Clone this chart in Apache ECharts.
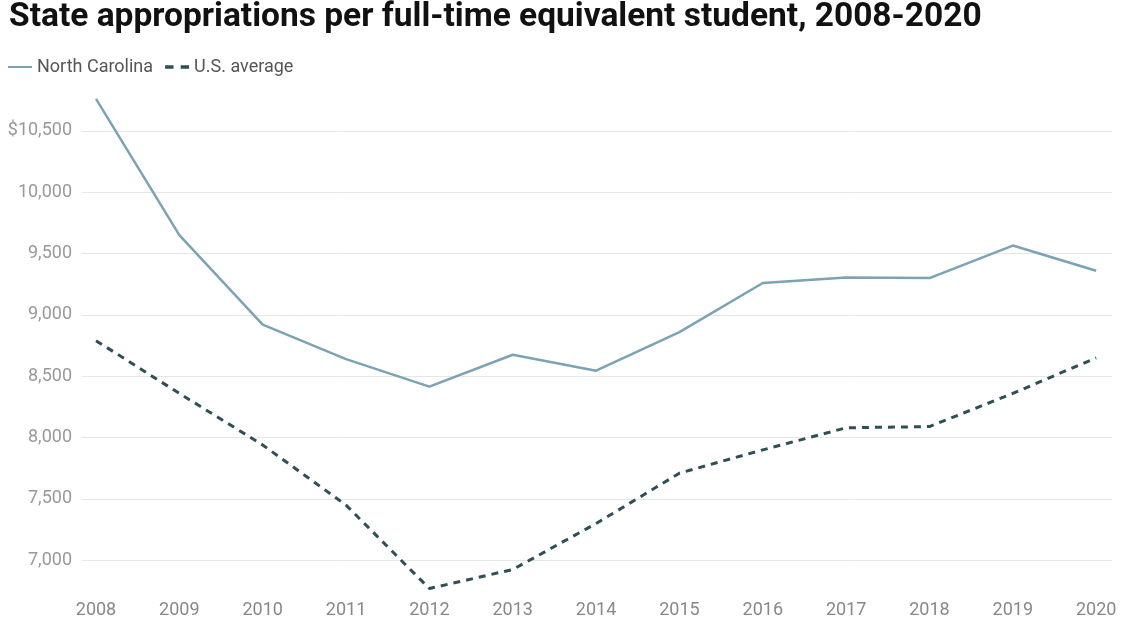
<!DOCTYPE html>
<html>
<head>
<meta charset="utf-8">
<script src="https://cdn.jsdelivr.net/npm/echarts@6/dist/echarts.min.js"></script>
<style>
  html, body { margin: 0; padding: 0; background: #fff; }
  #chart { width: 1140px; height: 640px; }
</style>
</head>
<body>
<div id="chart"></div>
<script>
// data
var years = [2008, 2009, 2010, 2011, 2012, 2013, 2014, 2015, 2016, 2017, 2018, 2019, 2020];
var northCarolina = [10760, 9650, 8920, 8640, 8415, 8675, 8545, 8860, 9260, 9305, 9300, 9565, 9360];
var usAverage = [8790, 8360, 7940, 7450, 6770, 6925, 7300, 7710, 7900, 8080, 8090, 8360, 8650];
var yTicks = [7000, 7500, 8000, 8500, 9000, 9500, 10000, 10500];

var chart = echarts.init(document.getElementById('chart'));

function pairs(values) {
  return years.map(function (y, i) { return [y, values[i]]; });
}

var option = {
  backgroundColor: '#fff',
  animation: false,
  title: {
    text: 'State appropriations per full-time equivalent student, 2008-2020',
    left: 4,
    top: -4,
    textStyle: {
      fontFamily: 'Roboto',
      fontWeight: 'bold',
      fontSize: 33.5,
      color: '#111'
    }
  },
  legend: {
    left: 3,
    top: 53,
    itemWidth: 24,
    itemHeight: 12,
    itemGap: 12,
    textStyle: { fontFamily: 'Roboto', fontSize: 18, color: '#555' },
    data: [
      { name: 'North Carolina', icon: 'path://M0,5L24,5L24,7L0,7Z' },
      { name: 'U.S. average', icon: 'path://M0,4.5L7,4.5L7,7.5L0,7.5ZM13,4.5L20,4.5L20,7.5L13,7.5Z' }
    ]
  },
  grid: {
    left: 82,
    right: 28,
    top: 94,
    bottom: 49,
    containLabel: false
  },
  xAxis: {
    type: 'value',
    min: 2007.832,
    max: 2020.19,
    axisLine: { show: false },
    axisTick: { show: false },
    splitLine: { show: false },
    axisLabel: {
      customValues: years,
      margin: 10,
      color: '#888',
      fontFamily: 'Roboto',
      fontSize: 18,
      formatter: function (v) { return String(v); }
    }
  },
  yAxis: {
    type: 'value',
    min: 6750,
    max: 10800,
    axisLine: { show: false },
    axisTick: { show: false, customValues: yTicks },
    splitLine: { show: true, lineStyle: { color: '#e6e6e6', width: 1 } },
    axisLabel: {
      customValues: yTicks,
      margin: 10,
      color: '#999',
      fontFamily: 'Roboto',
      fontSize: 18,
      formatter: function (v) {
        var s = v.toLocaleString('en-US');
        return v === 10500 ? '$' + s : s;
      }
    }
  },
  series: [
    {
      name: 'North Carolina',
      type: 'line',
      data: pairs(northCarolina),
      symbol: 'none',
      color: '#7ba3b3',
      lineStyle: { color: '#7ba3b3', width: 2.5 }
    },
    {
      name: 'U.S. average',
      type: 'line',
      data: pairs(usAverage),
      symbol: 'none',
      color: '#2f4f55',
      lineStyle: { color: '#2f4f55', width: 3, type: [7, 6] }
    }
  ]
};

chart.setOption(option);
</script>
</body>
</html>
